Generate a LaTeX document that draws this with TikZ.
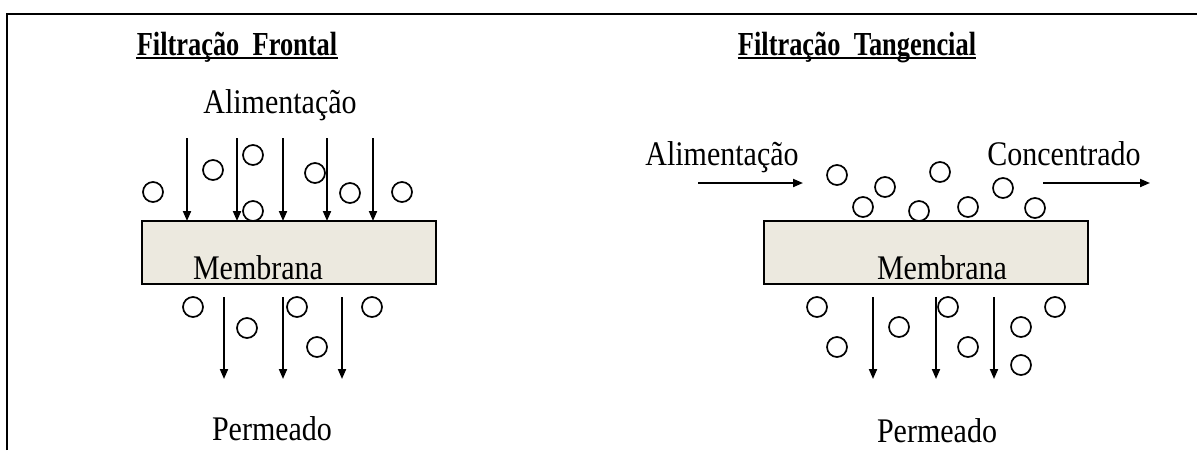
\documentclass[tikz,border=0pt]{standalone}
\usepackage{fontspec}
\setmainfont{Liberation Serif}
\usetikzlibrary{arrows.meta}
\definecolor{bege}{RGB}{236,233,223}
\newcommand{\alto}[1]{\scalebox{1}[1.15]{#1}}
\newcommand{\titulo}[1]{\scalebox{0.88}[1.12]{\textbf{#1}}}

\begin{document}
\begin{tikzpicture}[x=0.5pt, y=-0.5pt, font=\fontsize{15}{18}\selectfont,
        fluxo/.style={line width=0.95pt, -{Triangle[length=5pt, width=4pt]}},
        particula/.style={line width=0.85pt},
        membrana/.style={draw, line width=0.8pt, fill=bege}]
        \useasboundingbox (0, 0) rectangle (1197, 450);
        \draw[line width=1pt] (7, 450) -- (7, 14) -- (1197, 14);
        \node[anchor=base, inner xsep=0pt] (tituloF) at (237, 55) {\titulo{Filtração\ \ Frontal}};
        \node[anchor=base, inner xsep=0pt] (tituloT) at (857, 55) {\titulo{Filtração\ \ Tangencial}};
        \draw[line width=1pt] ([yshift=-1.5pt]tituloF.base west) -- ([yshift=-1.5pt]tituloF.base east);
        \draw[line width=1pt] ([yshift=-1.5pt]tituloT.base west) -- ([yshift=-1.5pt]tituloT.base east);
        \draw[membrana] (142, 221) rectangle (436, 284);
        \draw[membrana] (764, 221) rectangle (1088, 284);
        \node[anchor=base] (membF) at (258, 279) {\alto{Membrana}};
        \node[anchor=base] (membT) at (942, 279) {\alto{Membrana}};
        \node[anchor=base] (alimF) at (280, 113) {\alto{Alimentação}};
        \node[anchor=base] (alimT) at (722, 165) {\alto{Alimentação}};
        \node[anchor=base] (conc) at (1064, 165) {\alto{Concentrado}};
        \node[anchor=base] (permF) at (272, 440) {\alto{Permeado}};
        \node[anchor=base] (permT) at (937, 442) {\alto{Permeado}};
        \foreach \x in {187, 237, 283, 327, 373}
            \draw[fluxo] (\x, 138) -- (\x, 221);
        \foreach \x in {224, 283, 342, 873, 936, 994}
            \draw[fluxo] (\x, 297) -- (\x, 379);
        \draw[fluxo] (698, 183) -- (803, 183);
        \draw[fluxo] (1043, 183) -- (1150, 183);
        \foreach \x/\y in {153/192, 213/170, 253/155, 253/211, 315/173, 350/193, 402/192,
                193/307, 247/328, 297/307, 317/347, 372/307,
                837/175, 885/187, 863/207, 940/172, 919/211, 968/207, 1003/188, 1035/208,
                817/307, 837/347, 899/327, 948/307, 968/347, 1021/327, 1055/307, 1021/365}
            \draw[particula] (\x, \y) circle (10);
    \end{tikzpicture}
\end{document}
